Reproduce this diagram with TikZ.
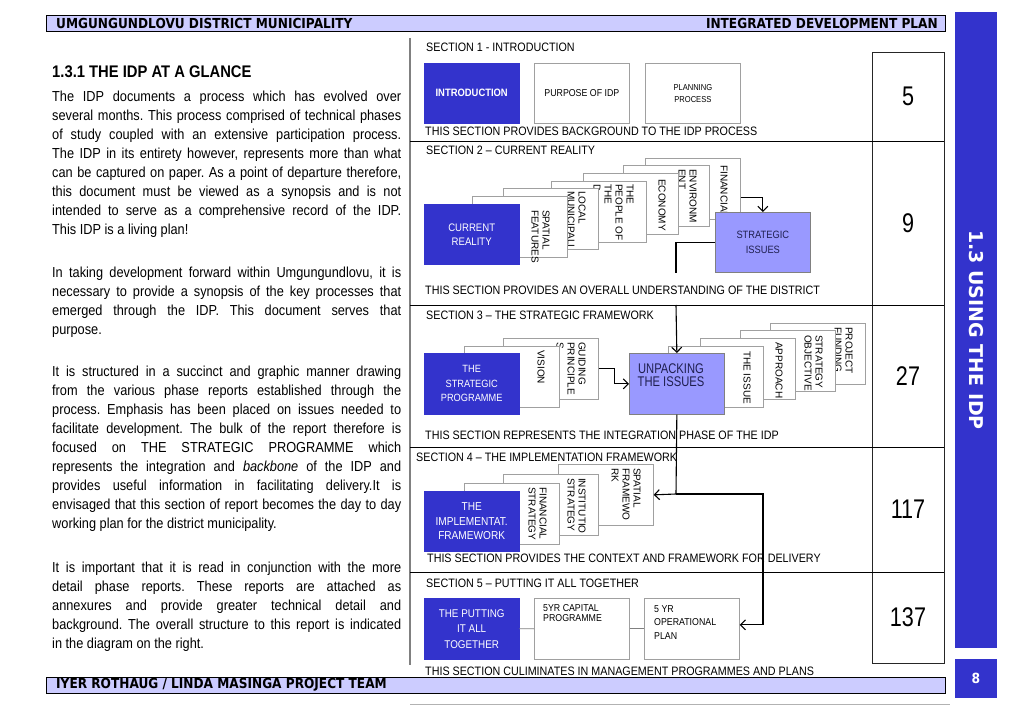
\documentclass[tikz,border=0pt]{standalone}
\usepackage{fontspec}
\setmainfont{Liberation Sans}
\newfontfamily\sqf[FakeStretch=0.88]{Liberation Sans}
\newfontfamily\narf[FakeStretch=0.8]{Liberation Sans}
\newfontfamily\vsqf[FakeStretch=0.88]{DejaVu Sans}
\newfontfamily\vrotf{DejaVu Sans}
\usetikzlibrary{arrows.meta}
\definecolor{idpblue}{HTML}{3333CC}
\definecolor{idppurple}{HTML}{9999FF}
\definecolor{barfill}{HTML}{CCCCFF}
\definecolor{boxgray}{HTML}{A0A0A0}
\definecolor{navytext}{HTML}{1F1F4F}
\newcommand\myfs[2]{\fontsize{#1}{#2}\selectfont}
\setlength{\parindent}{0pt}
\frenchspacing
\begin{document}
\begin{tikzpicture}[x=1pt, y=-1pt,
  bluebox/.style={fill=idpblue, draw=idpblue, text=white, minimum width=95pt, minimum height=61pt, inner sep=0pt, anchor=north west, align=center},
  wbox/.style={fill=white, draw=boxgray, line width=0.7pt, minimum width=95pt, minimum height=61pt, inner sep=0pt, anchor=north west, align=center},
  pbox/.style={fill=idppurple, draw=gray, line width=0.7pt, minimum width=95pt, minimum height=61pt, inner sep=0pt, anchor=north west, align=center, text=navytext},
  rtxt/.style={rotate=-90, anchor=north west, inner sep=0pt, align=left, font=\myfs{10}{11}},
  sectxt/.style={anchor=west, inner sep=0pt, font=\sqf\myfs{12.2}{14}},
  bodytxt/.style={anchor=north west, inner sep=0pt, text width=349pt, align=justify, font=\sqf\myfs{14.5}{19}},
  numtxt/.style={inner sep=0pt, font=\narf\myfs{27}{28}},
  bartxt/.style={inner sep=0pt, font=\vsqf\bfseries\myfs{13.8}{15}},
  divider/.style={line width=0.8pt},
  conn/.style={line width=1.1pt},
  arr/.style={conn, -{Straight Barb[length=5pt,width=10pt]}},
  bar/.style={fill=barfill, draw=black, line width=0.9pt, minimum width=899pt, minimum height=16pt, inner sep=0pt, anchor=north west}
]
\useasboundingbox (0,0) rectangle (1023,708);

% header and footer bars
\node[bar] (hdr) at (46,15) {};
\node[bartxt, anchor=west] (htl) at (56,23) {UMGUNGUNDLOVU DISTRICT MUNICIPALITY};
\node[bartxt, anchor=east] (htr) at (938,23) {INTEGRATED DEVELOPMENT PLAN};
\node[bar] (ftr) at (46,677) {};
\node[bartxt, anchor=west] (ft) at (56,685) {IYER ROTHAUG / LINDA MASINGA PROJECT TEAM};

% sidebar
\node[fill=idpblue, minimum width=42pt, minimum height=636pt, anchor=north west, inner sep=0pt] (side) at (955,12) {};
\node[rotate=-90, text=white, inner sep=0pt, font=\vrotf\bfseries\myfs{19}{20}] (sidetxt) at (976,330) {1.3 USING THE IDP};
\node[fill=idpblue, minimum width=42pt, minimum height=39pt, anchor=north west, inner sep=0pt] (pagebox) at (955,659) {};
\node[text=white, inner sep=0pt, font=\vsqf\bfseries\myfs{14}{15}] (pagenum) at (976,678.5) {8};

% left column text
\node[anchor=west, inner sep=0pt, font=\sqf\bfseries\myfs{16.8}{20}] (head) at (52,72) {1.3.1 THE IDP AT A GLANCE};
\node[bodytxt] (p1) at (52,90.5) {The IDP documents a process which has evolved over\linebreak several months. This process comprised of technical phases\linebreak of study coupled with an extensive participation process.\linebreak The IDP in its entirety however, represents more than what\linebreak can be captured on paper. As a point of departure therefore,\linebreak this document must be viewed as a synopsis and is not\linebreak intended to serve as a comprehensive record of the IDP.\linebreak This IDP is a living plan!};
\node[bodytxt] (p2) at (52,266.5) {In taking development forward within Umgungundlovu, it is\linebreak necessary to provide a synopsis of the key processes that\linebreak emerged through the IDP. This document serves that\linebreak purpose.};
\node[bodytxt] (p3) at (52,365.5) {It is structured in a succinct and graphic manner drawing\linebreak from the various phase reports established through the\linebreak process. Emphasis has been placed on issues needed to\linebreak facilitate development. The bulk of the report therefore is\linebreak focused on THE STRATEGIC PROGRAMME which\linebreak represents the integration and \textit{backbone} of the IDP and\linebreak provides useful information in facilitating delivery.It is\linebreak envisaged that this section of report becomes the day to day\linebreak working plan for the district municipality.};
\node[bodytxt] (p4) at (52,561.5) {It is important that it is read in conjunction with the more\linebreak detail phase reports. These reports are attached as\linebreak annexures and provide greater technical detail and\linebreak background. The overall structure to this report is indicated\linebreak in the diagram on the right.};

% frame of the right panel
\draw[draw=gray, line width=1.6pt] (410,38) -- (410,665);
\node[draw=black!85, line width=1.1pt, minimum width=72pt, minimum height=611pt, anchor=north west, inner sep=0pt] (numbox) at (872,52) {};
\draw[divider] (410,141) -- (944,141);
\draw[divider] (410,305) -- (944,305);
\draw[divider] (410,447) -- (944,447);
\draw[divider] (410,572) -- (944,572);
\draw[gray!60, line width=0.8pt] (410,704) -- (950,704);

\node[numtxt] (n1) at (908,96.5) {5};
\node[numtxt] (n2) at (908,223) {9};
\node[numtxt] (n3) at (908,376) {27};
\node[numtxt] (n4) at (908,509.5) {117};
\node[numtxt] (n5) at (908,617.5) {137};

% section 1
\node[sectxt] (s1) at (426,47) {SECTION 1 - INTRODUCTION};
\node[bluebox, minimum height=60pt, font=\sqf\bfseries\myfs{10.7}{13}] (intro) at (424,63) {INTRODUCTION};
\node[wbox, minimum height=60pt, font=\sqf\myfs{10}{12}] (purp) at (534,63) {PURPOSE OF IDP};
\node[wbox, minimum height=60pt, font=\sqf\myfs{8.6}{12}] (plan) at (645,63) {PLANNING\\PROCESS};
\node[sectxt] (s1b) at (425,131) {THIS SECTION PROVIDES BACKGROUND TO THE IDP PROCESS};

% section 2
\node[sectxt] (s2) at (426,150) {SECTION 2 – CURRENT REALITY};
\node[wbox] (b6) at (645,158) {};
\node[rtxt] (t6) at ([xshift=-13pt,yshift=-7pt]b6.north east) {FINANCIAL};
\node[wbox, minimum width=86pt] (b5) at (623,165) {};
\node[rtxt] (t5) at ([xshift=-13pt,yshift=-4pt]b5.north east) {ENVIRONM\\ENT};
\node[wbox] (b4) at (583,173) {};
\node[rtxt] (t4) at ([xshift=-13pt,yshift=-6pt]b4.north east) {ECONOMY};
\node[wbox] (b3) at (551,181) {};
\node[rtxt] (t3) at ([xshift=-13pt,yshift=-3pt]b3.north east) {THE\\PEOPLE OF\\THE\\D};
\node[wbox] (b2) at (503,188) {};
\node[rtxt] (t2) at ([xshift=-13pt,yshift=-3pt]b2.north east) {LOCAL\\MUNICIPALI};
\node[wbox] (b1) at (472,196) {};
\node[rtxt] (t1) at ([xshift=-18pt,yshift=-14pt]b1.north east) {SPATIAL\\FEATURES};
\node[bluebox, minimum height=60pt, font=\sqf\myfs{10.9}{14}] (cr) at (424,204) {CURRENT\\REALITY};
\node[pbox, minimum height=60pt, font=\sqf\myfs{10.6}{15}] (si) at (715,212) {STRATEGIC\\ISSUES};
\node[sectxt] (s2b) at (425,290) {THIS SECTION PROVIDES AN OVERALL UNDERSTANDING OF THE DISTRICT};
\draw[arr] ([yshift=-9pt]b6.east) -| (si.north);
\coordinate (c1) at (676,273);
\draw[conn] (si.west) -| (c1);

% section 3
\node[sectxt] (s3) at (426,315) {SECTION 3 – THE STRATEGIC FRAMEWORK};
\node[wbox] (gui) at (503,338) {};
\node[rtxt] (tgui) at ([xshift=-13pt,yshift=-4pt]gui.north east) {GUIDING\\PRINCIPLE\\S};
\node[wbox] (vis) at (464,346) {};
\node[rtxt] (tvis) at ([xshift=-15pt,yshift=-4pt]vis.north east) {VISION};
\node[bluebox, font=\sqf\myfs{10.5}{14.3}] (sp) at (424,353) {THE\\STRATEGIC\\PROGRAMME};
\node[wbox] (prj) at (770,323) {};
\node[rtxt] (tprj) at ([xshift=-13pt,yshift=-4pt]prj.north east) {PROJECT\\FUNDING};
\node[wbox] (str) at (740,330) {};
\node[rtxt] (tstr) at ([xshift=-13pt,yshift=-5pt]str.north east) {STRATEGY\\OBJECTIVE};
\node[wbox] (app) at (700,338) {};
\node[rtxt] (tapp) at ([xshift=-13pt,yshift=-4pt]app.north east) {APPROACH};
\node[wbox] (iss) at (668,346) {};
\node[rtxt] (tiss) at ([xshift=-13pt,yshift=-5pt]iss.north east) {THE ISSUE};
\node[pbox] (unp) at (629,353) {};
\node[text=navytext, font=\narf\myfs{14}{13.5}, align=center, inner sep=0pt] (tunp) at (671,375) {UNPACKING\\THE ISSUES};
\node[sectxt] (s3b) at (425,435) {THIS SECTION REPRESENTS THE INTEGRATION PHASE OF THE IDP};
\coordinate (c2) at (676,305);
\draw[arr] (c2) -- (unp.north);
\draw[arr] (gui.east) -- ++(16,0) |- (unp.west);

% section 4
\node[sectxt] (s4) at (416,457) {SECTION 4 – THE IMPLEMENTATION FRAMEWORK};
\node[wbox] (spat) at (558,464) {};
\node[rtxt] (tspat) at ([xshift=-13pt,yshift=-4pt]spat.north east) {SPATIAL\\FRAMEWO\\RK};
\node[wbox] (inst) at (503,474) {};
\node[rtxt] (tinst) at ([xshift=-13pt,yshift=-4pt]inst.north east) {INSTITUTIO\\STRATEGY};
\node[wbox] (fin) at (464,483) {};
\node[rtxt] (tfin) at ([xshift=-13pt,yshift=-4pt]fin.north east) {FINANCIAL\\STRATEGY};
\node[bluebox, minimum height=60pt, font=\sqf\myfs{11.5}{14.2}] (impl) at (424,491) {THE\\IMPLEMENTAT.\\FRAMEWORK};
\node[sectxt] (s4b) at (427,558) {THIS SECTION PROVIDES THE CONTEXT AND FRAMEWORK FOR DELIVERY};

% section 5
\node[sectxt] (s5) at (426,583) {SECTION 5 – PUTTING IT ALL TOGETHER};
\node[bluebox, font=\sqf\myfs{11.2}{15.5}] (put) at (424,598) {THE PUTTING\\IT ALL\\TOGETHER};
\node[wbox] (cap) at (534,598) {};
\node[anchor=north west, inner sep=0pt, align=left, font=\sqf\myfs{10}{10.5}] (tcap) at ([xshift=9pt,yshift=-6pt]cap.north west) {5YR CAPITAL\\PROGRAMME};
\node[wbox] (oper) at (644,598) {};
\node[anchor=north west, inner sep=0pt, align=left, font=\sqf\myfs{10}{13.5}] (toper) at ([xshift=10pt,yshift=-7pt]oper.north west) {5 YR\\OPERATIONAL\\PLAN};
\node[sectxt] (s5b) at (425,671) {THIS SECTION CULIMINATES IN MANAGEMENT PROGRAMMES AND PLANS};
\draw[gray, line width=0.8pt] (put.east) -- (cap.west);
\draw[gray, line width=0.8pt] (cap.east) -- (oper.west);

% flow from the strategic issues down to delivery
\coordinate (j) at (676,494);
\coordinate (k) at (763,494);
\draw[conn] (unp.south) -- (j);
\draw[arr] (j) -- (spat.east);
\draw[arr] (j) -- (k) |- ([yshift=4pt]oper.east);
\end{tikzpicture}
\end{document}
